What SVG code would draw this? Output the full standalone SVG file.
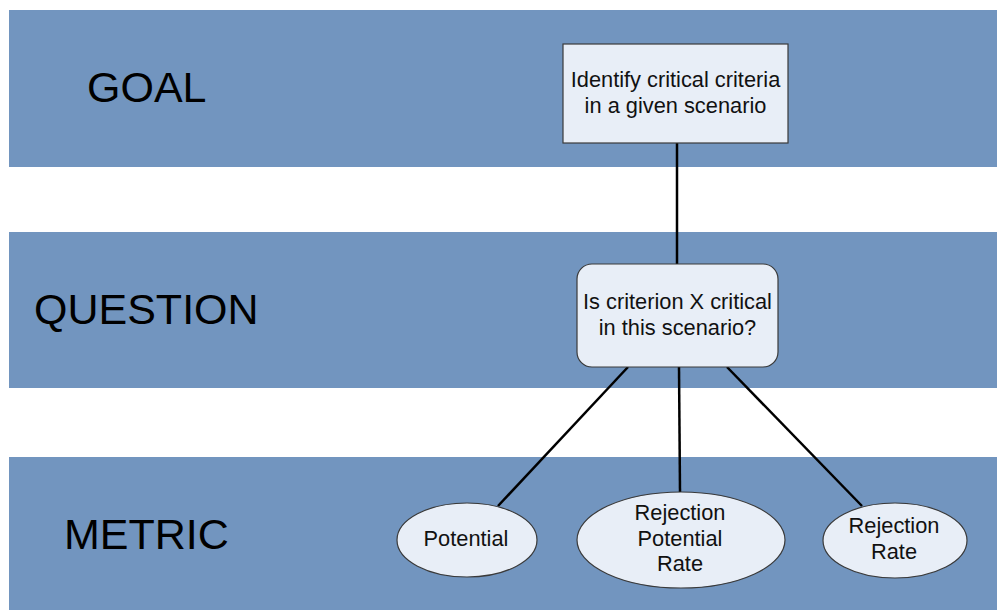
<svg xmlns="http://www.w3.org/2000/svg" width="997" height="610" viewBox="0 0 997 610">
  <style>
    .band { fill: #7295BF; }
    .label { font-family: "Liberation Sans", Arial, sans-serif; font-size: 43px; fill: #000; }
    .node { fill: #E8EEF7; stroke: #3A3A3A; stroke-width: 1.2; }
    .txt { font-family: "Liberation Sans", Arial, sans-serif; font-size: 21.8px; fill: #111; text-anchor: middle; }
    .link { stroke: #000; stroke-width: 2.5; fill: none; }
  </style>
  <rect width="997" height="610" fill="#FFFFFF"/>

  <!-- level bands -->
  <g id="bands">
    <rect class="band" x="9" y="10" width="988" height="157"/>
    <rect class="band" x="9" y="232" width="988" height="156"/>
    <rect class="band" x="9" y="457" width="988" height="153"/>
  </g>

  <!-- level labels -->
  <g id="labels">
    <text class="label" x="87" y="102">GOAL</text>
    <text class="label" x="34" y="324">QUESTION</text>
    <text class="label" x="64" y="549">METRIC</text>
  </g>

  <!-- connectors -->
  <g id="connectors">
    <line class="link" x1="677" y1="143" x2="677" y2="264"/>
    <line class="link" x1="628" y1="367" x2="498" y2="506"/>
    <line class="link" x1="679" y1="367" x2="680" y2="492"/>
    <line class="link" x1="727" y1="367" x2="862" y2="506"/>
  </g>

  <g id="goal">
    <rect class="node" x="563" y="44" width="225" height="99"/>
    <text class="txt" x="675.5" y="87">Identify critical criteria</text>
    <text class="txt" x="675.5" y="113">in a given scenario</text>
  </g>

  <g id="question">
    <rect class="node" x="577" y="264" width="201" height="103" rx="15" ry="15"/>
    <text class="txt" x="677.5" y="309">Is criterion X critical</text>
    <text class="txt" x="677.5" y="335">in this scenario?</text>
  </g>

  <g id="metric-potential">
    <ellipse class="node" cx="467" cy="540" rx="70" ry="37"/>
    <text class="txt" x="466" y="546">Potential</text>
  </g>

  <g id="metric-rejection-potential-rate">
    <ellipse class="node" cx="681" cy="540" rx="104" ry="48"/>
    <text class="txt" x="680" y="520">Rejection</text>
    <text class="txt" x="680" y="546">Potential</text>
    <text class="txt" x="680" y="571">Rate</text>
  </g>

  <g id="metric-rejection-rate">
    <ellipse class="node" cx="895" cy="540.5" rx="72" ry="37.5"/>
    <text class="txt" x="894" y="533">Rejection</text>
    <text class="txt" x="894" y="559">Rate</text>
  </g>
</svg>
